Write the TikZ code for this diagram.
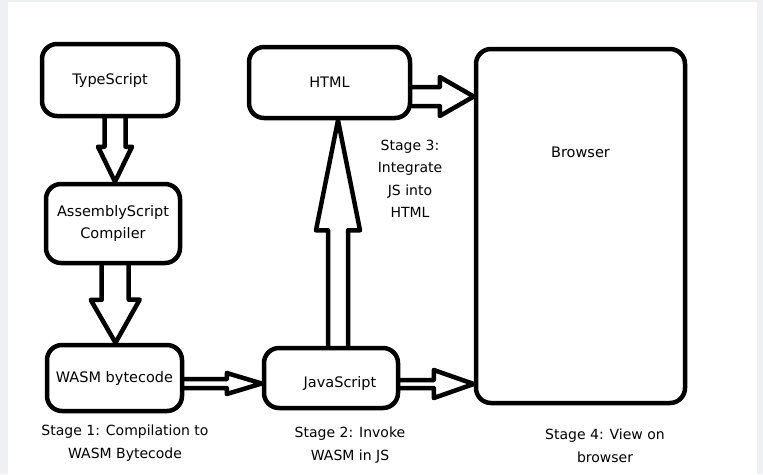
\documentclass[tikz,border=0pt]{standalone}
\usepackage{fontspec}
\setmainfont{DejaVu Sans}
\usetikzlibrary{calc}
\definecolor{edgegray}{RGB}{238,241,244}
\tikzset{
  boxfont/.style={font=\fontsize{14.5}{22.5}\selectfont},
  box/.style={draw=black, line width=4.5pt, rounded corners=15pt, fill=white, inner sep=0pt, boxfont, align=center},
  barrow/.style={draw=black, line width=4.5pt, line join=round, line cap=round},
  stagetext/.style={font=\fontsize{14}{22.5}\selectfont, align=center, inner sep=0pt}
}
\newcommand\fatarrow[5]{%
  \draw[barrow] let \p1=#1, \p2=#2, \n1={atan2(\y2-\y1,\x2-\x1)}, \n2={veclen(\x2-\x1,\y2-\y1)-#5} in
   ($(\p1)+(\n1+90:#3)$) -- ($(\p1)+(\n1+90:#3)+(\n1:\n2)$) -- ($(\p1)+(\n1+90:#4)+(\n1:\n2)$) -- (\p2)
   -- ($(\p1)+(\n1-90:#4)+(\n1:\n2)$) -- ($(\p1)+(\n1-90:#3)+(\n1:\n2)$) -- ($(\p1)+(\n1-90:#3)$);}
\begin{document}
\begin{tikzpicture}[x=1pt,y=1pt]
\fill[edgegray] (0,0) rectangle (763,-474);
\fill[white] (8,-2) rectangle (757,-474);
\useasboundingbox (0,0) rectangle (763,-474);
% boxes
\node[box, minimum width=136pt, minimum height=72pt] (ts) at (110,-80) {TypeScript};
\node[box, minimum width=161pt, minimum height=71pt] (html) at (329.5,-82.5) {HTML};
\node[box, minimum width=134pt, minimum height=79pt] (asc) at (113,-223.5) {AssemblyScript\\Compiler};
\node[box, minimum width=135pt, minimum height=66pt] (wasm) at (114.5,-378) {WASM bytecode};
\node[box, minimum width=134pt, minimum height=60pt, label={[boxfont, xshift=9pt, yshift=-5pt]center:JavaScript}] (js) at (331,-378) {};
\node[box, minimum width=209pt, minimum height=354pt, label={[boxfont, yshift=74pt]center:Browser}] (br) at (580.5,-226) {};
% arrows
\fatarrow{($(ts.south)+(5,0)$)}{($(asc.north)+(2,0)$)}{10.5}{17}{35}
\fatarrow{($(asc.south)+(2,0)$)}{($(wasm.north)+(1,0)$)}{13.5}{24.5}{43}
\fatarrow{($(wasm.east)+(0,-5.5)$)}{($(js.west)+(0,-5.5)$)}{4.5}{10.5}{35}
\fatarrow{($(js.north)+(7,0)$)}{($(html.south)+(8.5,0)$)}{10}{22}{110}
\fatarrow{($(js.east)+(0,-6)$)}{($(br.west|-js.east)+(0,-6)$)}{4}{14}{40}
\fatarrow{($(html.east)+(0,-14)$)}{($(br.west|-html.east)+(0,-14)$)}{9.5}{19.5}{34}
% stage texts
\node[stagetext] (s1) at (125,-443) {Stage 1: Compilation to\\WASM Bytecode};
\node[stagetext] (s2) at (350,-445) {Stage 2: Invoke\\WASM in JS};
\node[stagetext] (s3) at (410,-179) {Stage 3:\\Integrate\\JS into\\HTML};
\node[stagetext] (s4) at (605,-446) {Stage 4: View on\\browser};
\end{tikzpicture}
\end{document}
